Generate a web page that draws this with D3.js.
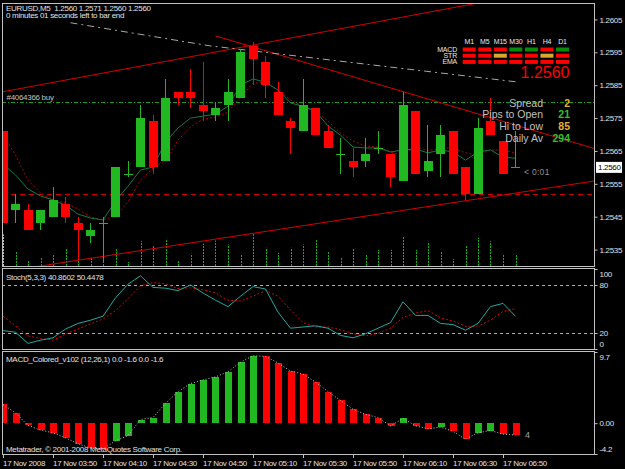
<!DOCTYPE html>
<html><head><meta charset="utf-8">
<script src="https://cdn.jsdelivr.net/npm/d3@7"></script>
<style>html,body{margin:0;padding:0;background:#000;overflow:hidden}svg{display:block}</style>
</head><body>
<script>
// ---------- DATA ----------
const times = ["03:30","03:35","03:40","03:45","03:50","03:55","04:00","04:05","04:10","04:15","04:20","04:25","04:30","04:35","04:40","04:45","04:50","04:55","05:00","05:05","05:10","05:15","05:20","05:25","05:30","05:35","05:40","05:45","05:50","05:55","06:00","06:05","06:10","06:15","06:20","06:25","06:30","06:35","06:40","06:45","06:50","06:55"];
const open  = [1.2571,1.2547,1.2547,1.2543,1.2545,1.2549,1.2543,1.2539,1.2543,1.2545,1.2558,1.2560,1.2574,1.2562,1.2583,1.2583,1.2579,1.2576,1.2579,1.2581,1.2597,1.2592,1.2583,1.2574,1.2571,1.2578,1.2571,1.2564,1.2562,1.2562,1.2566,1.2564,1.2556,1.2577,1.2559,1.2564,1.2571,1.2560,1.2552,1.2574,1.2568,1.2560];
const high  = [1.2571,1.2552,1.2549,1.2547,1.2554,1.2551,1.2545,1.2543,1.2545,1.2560,1.2562,1.2579,1.2576,1.2587,1.2583,1.2590,1.2592,1.2580,1.2587,1.2596,1.2598,1.2594,1.2586,1.2575,1.2587,1.2578,1.2573,1.2569,1.2566,1.2569,1.2571,1.2564,1.2583,1.2577,1.2573,1.2573,1.2571,1.2560,1.2575,1.2581,1.2568,1.2571];
const low   = [1.2543,1.2543,1.2541,1.2541,1.2545,1.2543,1.2532,1.2537,1.2531,1.2545,1.2557,1.2560,1.2558,1.2562,1.2579,1.2578,1.2574,1.2574,1.2574,1.2581,1.2585,1.2581,1.2576,1.2564,1.2571,1.2570,1.2566,1.2558,1.2557,1.2560,1.2564,1.2554,1.2556,1.2558,1.2557,1.2557,1.2558,1.2550,1.2552,1.2570,1.2558,1.2560];
const close = [1.2543,1.2549,1.2541,1.2547,1.2550,1.2545,1.2541,1.2541,1.2543,1.2560,1.2558,1.2575,1.2560,1.2581,1.2581,1.2581,1.2577,1.2578,1.2583,1.2595,1.2593,1.2585,1.2576,1.2572,1.2579,1.2570,1.2566,1.2564,1.2560,1.2564,1.2566,1.2557,1.2579,1.2558,1.2562,1.2570,1.2558,1.2552,1.2572,1.2570,1.2558,1.2560];
const volume = [126,60,22,33,49,70,60,33,104,69,16,100,80,109,22,49,89,102,86,46,130,73,53,73,86,105,57,36,69,44,65,65,121,65,97,58,28,84,113,100,44,49];
const maFast = [1.25610,1.25577,1.25534,1.25513,1.25501,1.25485,1.25458,1.25446,1.25440,1.25498,1.25543,1.25592,1.25601,1.25677,1.25720,1.25750,1.25756,1.25762,1.25786,1.25850,1.25869,1.25859,1.25835,1.25796,1.25786,1.25771,1.25726,1.25698,1.25662,1.25659,1.25659,1.25647,1.25653,1.25656,1.25644,1.25653,1.25647,1.25622,1.25647,1.25653,1.25631,1.25628];
const maSlow = [1.25701,1.25637,1.25561,1.25522,1.25501,1.25492,1.25473,1.25449,1.25440,1.25452,1.25495,1.25561,1.25598,1.25622,1.25683,1.25723,1.25747,1.25753,1.25768,1.25814,1.25856,1.25859,1.25835,1.25805,1.25786,1.25771,1.25741,1.25704,1.25680,1.25665,1.25662,1.25647,1.25637,1.25665,1.25650,1.25659,1.25659,1.25644,1.25637,1.25653,1.25653,1.25644];
const stochK = [23,21,7,11,14,25,32,36,41,64,81,91.5,77,76,73,80,70,61,53,66,78,75,46,26,27.5,29,26,17,14,19,26,33,59,42,42,32,30.5,23.5,32,53,57,40.86];
const stochD = [41,29,16.5,13,11,18.5,25,31.5,37.5,48,63,79,83,81.5,75.5,76.5,74,70,61,60,66,73,66,49,33,27.5,27.5,24,19,16.5,19.5,26,39.5,45,48,39,35,28.5,28.5,36,47,50.45];
const macd = [2.55,1.4,-0.3,-0.95,-1.3,-2.0,-2.8,-3.4,-3.5,-2.4,-1.7,0.5,0.77,2.7,4.3,5.4,5.9,6.3,7.0,8.3,9.2,9.1,8.2,7.1,6.7,5.6,4.3,3.1,1.9,1.2,0.77,-0.36,0.64,-0.36,-0.77,-0.55,-1.1,-2.2,-1.3,-1.0,-1.5,-1.6];
const macdDir = "RRRRRRRRRGGGGGGGGGGGGRRRRRRRRRRRGRRGRRGGRR".split("");
const priceTicks = [1.2535,1.2545,1.2555,1.2565,1.2575,1.2585,1.2595,1.2605];
const timeTickIdx = [0,4,8,12,16,20,24,28,32,36,40];
const timeTickLabels = ["17 Nov 2008","17 Nov 03:50","17 Nov 04:10","17 Nov 04:30","17 Nov 04:50","17 Nov 05:10","17 Nov 05:30","17 Nov 05:50","17 Nov 06:10","17 Nov 06:30","17 Nov 06:50"];
const stochLevels = [80,20];
const stochTicks = [100,80,20,0];
const macdTicks = [9.7,0,-4.2];
const macdTickLabels = ["9.7","0.00","-4.2"];
const trendUp = [[0,1.2583],[38,1.2610]];
const trendDown = [[17,1.2600],[40,1.25740]];
const trendLow = [[3,1.2530],[40,1.25516]];
const grayCurve = [[5.4,1.2604],[16.5,1.2597],[41.1,1.2586]];
const buyLevel = 1.2580, stopLevel = 1.2552, lastPrice = 1.2560;
const tfs = ["M1","M5","M15","M30","H1","H4","D1"];
const sigRows = ["MACD","STR","EMA"];
const sigMACD = ["R","R","R","G","G","R","G"];
const sigSTR  = ["R","R","Y","R","R","Y","R"];
const sigEMA  = ["R","R","R","R","R","R","R"];
const infoLabels = ["Spread","Pips to Open","Hi to Low","Daily Av"];
const infoValues = ["2","21","85","294"];
const infoColors = ["#e0b030","#30c030","#e0b030","#30c030"];

// ---------- SETUP ----------
const W=625,H=469;
const FONT="'Liberation Sans', Arial, sans-serif";
const svg=d3.select("body").append("svg").attr("width",W).attr("height",H);
svg.append("rect").attr("width",W).attr("height",H).attr("fill","#000");
const n=times.length;
const x=d3.scaleLinear().domain([0,41]).range([3,515.5]);
const yP=d3.scaleLinear().domain([1.2530,1.26097]).range([266,4]);
const yS=d3.scaleLinear().domain([0,100]).range([349,269]);
const yM=d3.scaleLinear().domain([-4.2,9.7]).range([454,352]);
const yV=d3.scaleLinear().domain([0,200]).range([266,216]);
const L=2, R=594;
const GREEN="#22b822", RED="#ff0000", FG="#c8c8c8";

const defs=svg.append("defs");
function clip(id,y0,y1){defs.append("clipPath").attr("id",id).append("rect").attr("x",L+1).attr("y",y0).attr("width",R-L-1).attr("height",y1-y0);}
clip("cm",3.5,266); clip("cs",268.5,349.5); clip("cmacd",352.5,454);

function txt(g,s,xx,yy,o={}){
  return g.append("text").attr("x",xx).attr("y",yy).text(s)
   .attr("font-family",FONT).attr("font-size",o.size||8).attr("fill",o.fill||FG)
   .attr("letter-spacing",o.ls!==undefined?o.ls:-0.3).attr("text-anchor",o.anchor||"start")
   .style("white-space","pre").attr("font-weight",o.weight||"normal");
}

// ---------- MAIN PANEL ----------
const gm=svg.append("g").attr("clip-path","url(#cm)");
// volumes
gm.selectAll(".vol").data(volume).join("line")
  .attr("x1",(d,i)=>Math.round(x(i))+0.5).attr("x2",(d,i)=>Math.round(x(i))+0.5)
  .attr("y1",yV(0)).attr("y2",d=>yV(d))
  .attr("stroke",(d,i)=>i===0?"#60ff60":"#10b010").attr("stroke-dasharray","2,1");
// horizontal levels
gm.append("line").attr("x1",L).attr("x2",R).attr("y1",Math.round(yP(buyLevel))+0.5).attr("y2",Math.round(yP(buyLevel))+0.5)
  .attr("stroke","#1a9a1a").attr("stroke-dasharray","4,2,1,2");
gm.append("line").attr("x1",L).attr("x2",R).attr("y1",Math.round(yP(stopLevel))+0.5).attr("y2",Math.round(yP(stopLevel))+0.5)
  .attr("stroke","#d00000").attr("stroke-dasharray","5,4");
// trendlines
function ray(pts,i0,i1){
  const [a,b]=pts; const s=(b[1]-a[1])/(b[0]-a[0]);
  return [[i0,a[1]+s*(i0-a[0])],[i1,a[1]+s*(i1-a[0])]];
}
const lineGen=d3.line().x(d=>x(d[0])).y(d=>yP(d[1]));
gm.append("path").attr("d",lineGen(ray(trendUp,-2,50))).attr("stroke","#d40000").attr("fill","none");
gm.append("path").attr("d",lineGen(ray(trendDown,trendDown[0][0],50))).attr("stroke","#d40000").attr("fill","none");
gm.append("path").attr("d",lineGen(ray(trendLow,-2,50))).attr("stroke","#d40000").attr("fill","none");
gm.append("path").attr("d",lineGen(grayCurve)).attr("stroke","#a8a8a8").attr("fill","none").attr("stroke-dasharray","7,4,2,4");
// moving averages
const maLine=d3.line().x((d,i)=>x(i)).y(d=>yP(d));
gm.append("path").attr("d",maLine(maSlow)).attr("stroke","#b00000").attr("fill","none").attr("stroke-dasharray","2,2");
gm.append("path").attr("d",maLine(maFast)).attr("stroke","#137a45").attr("fill","none");
// candles
const cg=gm.append("g").attr("shape-rendering","crispEdges");
for(let i=0;i<n;i++){
  const up=close[i]>=open[i]; const col=up?GREEN:RED; const cx=x(i);
  const wx=Math.floor(cx)+0.5;
  cg.append("line").attr("x1",wx).attr("x2",wx).attr("y1",yP(high[i])).attr("y2",yP(low[i])).attr("stroke",col);
  if(Math.abs(close[i]-open[i])<1e-9){
    const yy=Math.round(yP(close[i]))+0.5;
    cg.append("line").attr("x1",cx-4.5).attr("x2",cx+4.5).attr("y1",yy).attr("y2",yy).attr("stroke",col);
  } else {
    const t=yP(Math.max(open[i],close[i])), b=yP(Math.min(open[i],close[i]));
    cg.append("rect").attr("x",cx-4.5).attr("y",t).attr("width",9).attr("height",b-t).attr("fill",col);
  }
}
// texts main
txt(svg,"EURUSD,M5  1.2560 1.2571 1.2560 1.2560",6,10.5,{fill:"#e0e0e0"});
txt(svg,"0 minutes 01 seconds left to bar end",6,18,{fill:"#e0e0e0"});
txt(svg,"#4064366 buy",6.5,100,{fill:"#c0c0c0"});
txt(svg,"< 0:01",524,175,{fill:"#909090",size:8.5,ls:0.3});
// signal table
const cellStep=15.55, cellX0=462.7, rowY=[47.5,53.7,59.9];
const sigs=[sigMACD,sigSTR,sigEMA];
const sigCol={R:"#ff0000",G:"#0a8a0a",Y:"#d8a830"};
tfs.forEach((t,j)=>txt(svg,t,cellX0+cellStep*j+6.5,43.5,{anchor:"middle",size:7,fill:"#e8e8e8",ls:-0.2}));
sigRows.forEach((r,k)=>{
  txt(svg,r,457,rowY[k]+4,{anchor:"end",size:7,fill:"#e8e8e8",ls:-0.2});
  sigs[k].forEach((c,j)=>svg.append("rect").attr("x",cellX0+cellStep*j).attr("y",rowY[k]).attr("width",13).attr("height",4).attr("fill",sigCol[c]));
});
txt(svg,"1.2560",569.5,77.5,{anchor:"end",size:16,fill:"#ff0000",ls:0});
infoLabels.forEach((l,k)=>{
  const yy=106.5+11.7*k;
  txt(svg,l,543,yy,{anchor:"end",size:10.5,fill:"#c0c0c0",ls:0});
  txt(svg,infoValues[k],570,yy,{anchor:"end",size:10.5,fill:infoColors[k],ls:0,weight:"bold"});
});

// ---------- STOCH ----------
const gs=svg.append("g").attr("clip-path","url(#cs)");
stochLevels.forEach(v=>gs.append("line").attr("x1",L).attr("x2",R).attr("y1",Math.round(yS(v))+0.5).attr("y2",Math.round(yS(v))+0.5)
  .attr("stroke","#b0b0b0").attr("stroke-dasharray","3,3"));
const sLine=d3.line().x((d,i)=>x(i)).y(d=>yS(d));
gs.append("path").attr("d",sLine(stochD)).attr("stroke","#e00000").attr("fill","none").attr("stroke-dasharray","2,2");
gs.append("path").attr("d",sLine(stochK)).attr("stroke","#20a8a0").attr("fill","none");
txt(svg,"Stoch(5,3,3) 40.8602 50.4478",6,279.5,{fill:"#e0e0e0"});

// ---------- MACD ----------
const gd=svg.append("g").attr("clip-path","url(#cmacd)");
gd.append("g").attr("shape-rendering","crispEdges").selectAll("rect").data(macd).join("rect")
  .attr("x",(d,i)=>Math.round(x(i))-3).attr("width",7)
  .attr("y",d=>Math.min(yM(0),yM(d))).attr("height",d=>Math.max(1,Math.abs(yM(d)-yM(0))))
  .attr("fill",(d,i)=>macdDir[i]==="G"?GREEN:RED);
gd.append("path").attr("d",d3.line().x((d,i)=>x(i)).y(d=>yM(d))(macd)).attr("stroke","#c0c0c0").attr("fill","none").attr("stroke-dasharray","1,2");
txt(svg,"MACD_Colored_v102 (12,26,1) 0.0 -1.6 0.0 -1.6",6,362,{fill:"#e0e0e0"});
txt(svg,"Metatrader, © 2001-2008 MetaQuotes Software Corp.",6,452,{fill:"#e0e0e0"});
txt(svg,"4",525,438,{fill:"#a0a0a0",size:9,ls:0});

// ---------- FRAMES ----------
const fr=svg.append("g").attr("fill","none").attr("stroke","#c0c0c0").attr("shape-rendering","crispEdges");
fr.append("rect").attr("x",L+0.5).attr("y",3.5).attr("width",R-L).attr("height",262.5);
fr.append("rect").attr("x",L+0.5).attr("y",268.5).attr("width",R-L).attr("height",81);
fr.append("rect").attr("x",L+0.5).attr("y",351.5).attr("width",R-L).attr("height",103);

// ---------- AXES ----------
const axR=d3.axisRight(yP).tickValues(priceTicks).tickFormat(d3.format(".4f")).tickSize(3).tickPadding(2);
const ga=svg.append("g").attr("transform",`translate(${R+0.5},0)`).call(axR);
ga.select(".domain").remove();
ga.selectAll("line").attr("stroke","#c0c0c0");
ga.selectAll("text").attr("fill","#e0e0e0").attr("font-family",FONT).attr("font-size",8).attr("letter-spacing",-0.3);
// current price box
svg.append("rect").attr("x",596).attr("y",yP(lastPrice)-5.5).attr("width",26).attr("height",11).attr("fill","#fff");
txt(svg,"1.2560",598,yP(lastPrice)+3,{fill:"#000"});
// stoch axis
const axS=d3.axisRight(yS).tickValues(stochTicks).tickSize(3).tickPadding(2);
const gsa=svg.append("g").attr("transform",`translate(${R+0.5},0)`).call(axS);
gsa.select(".domain").remove();
gsa.selectAll("line").attr("stroke","#c0c0c0");
gsa.selectAll("text").attr("fill","#e0e0e0").attr("font-family",FONT).attr("font-size",8).attr("letter-spacing",-0.3)
  .attr("dy",d=>d===100?"0.95em":d===0?"-0.3em":"0.32em");
// macd axis
const axM=d3.axisRight(yM).tickValues(macdTicks).tickFormat((d,i)=>macdTickLabels[i]).tickSize(3).tickPadding(2);
const gma=svg.append("g").attr("transform",`translate(${R+0.5},0)`).call(axM);
gma.select(".domain").remove();
gma.selectAll("line").attr("stroke","#c0c0c0");
gma.selectAll("text").attr("fill","#e0e0e0").attr("font-family",FONT).attr("font-size",8).attr("letter-spacing",-0.3)
  .attr("dy",(d,i)=>i===0?"0.95em":i===2?"-0.3em":"0.32em");
// time axis
const axT=d3.axisBottom(x).tickValues(timeTickIdx).tickFormat((d,i)=>timeTickLabels[i]).tickSize(3).tickPadding(2);
const gt=svg.append("g").attr("transform","translate(0,455)").call(axT);
gt.select(".domain").remove();
gt.selectAll("line").attr("stroke","#c0c0c0");
gt.selectAll("text").attr("fill","#e0e0e0").attr("font-family",FONT).attr("font-size",8).attr("letter-spacing",-0.3)
  .attr("text-anchor","start").attr("dx",-0.5);
</script>
</body></html>
